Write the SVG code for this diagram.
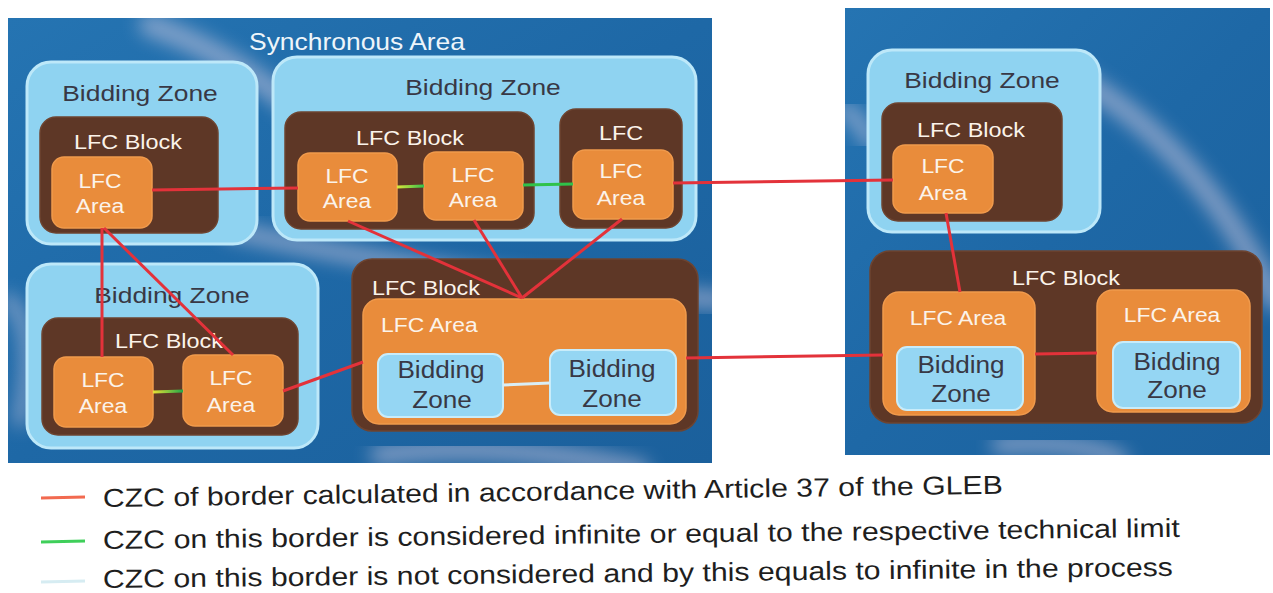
<svg xmlns="http://www.w3.org/2000/svg" width="1273" height="593" viewBox="0 0 1273 593">
<defs>
<style>
.panel{fill:url(#sky)}
.bz{fill:#8fd3f1;stroke:#bde8f9;stroke-width:3}
.blk{fill:#5e3726;stroke:#6e4430;stroke-width:1.5}
.area{fill:#e98c3b;stroke:#f09a4c;stroke-width:1.5}
.bzi{fill:#95d6f3;stroke:#c8ecfa;stroke-width:2}
text{font-family:"Liberation Sans",Arial,sans-serif}
.dk{fill:#383845}
.wt{fill:#fbf3ea}
.sync{fill:#eef5fa;font-size:23px}
.zl{font-size:22px}
.bl{font-size:20px}
.al{font-size:21px}
.zi{font-size:24px}
.leg{fill:#1e1e1e;font-size:26px}
.red{stroke:#e3323a;stroke-width:3;fill:none}
.grn{stroke:#2fc24a;stroke-width:3;fill:none}
.lt{stroke:#d9eef6;stroke-width:3;fill:none}
.streak{fill:none;stroke:#f3dcea;stroke-linecap:round;opacity:0.45;filter:url(#blur)}
</style>
<linearGradient id="sky" x1="0" y1="0" x2="1" y2="1">
<stop offset="0" stop-color="#2574b2"/>
<stop offset="0.5" stop-color="#1e68a6"/>
<stop offset="1" stop-color="#1b609c"/>
</linearGradient>
<linearGradient id="yg1" gradientUnits="userSpaceOnUse" x1="397" y1="0" x2="424" y2="0">
<stop offset="0" stop-color="#dbe63a"/>
<stop offset="1" stop-color="#34c04a"/>
</linearGradient>
<linearGradient id="yg2" gradientUnits="userSpaceOnUse" x1="153" y1="0" x2="183" y2="0">
<stop offset="0" stop-color="#e8e034"/>
<stop offset="1" stop-color="#22a848"/>
</linearGradient>
<filter id="blur" x="-20%" y="-20%" width="140%" height="140%"><feGaussianBlur stdDeviation="9"/></filter>
<clipPath id="clipL"><rect x="8" y="18" width="704" height="445"/></clipPath>
<clipPath id="clipR"><rect x="845" y="8" width="425" height="447"/></clipPath>
</defs>
<rect width="1273" height="593" fill="#ffffff"/>

<g id="panel-left">
<rect class="panel" x="8" y="18" width="704" height="445"/>
<g clip-path="url(#clipL)">
<path class="streak" stroke-width="22" d="M150 25 Q 250 60 330 140"/>
<path class="streak" stroke-width="18" d="M230 230 Q 450 280 720 300"/>
<path class="streak" stroke-width="20" d="M380 455 Q 500 440 640 470"/>
<path class="streak" stroke-width="14" d="M8 300 Q 40 330 20 420"/>
</g>
<text class="sync" transform="translate(357 50) scale(1.15 1)" text-anchor="middle">Synchronous Area</text>
</g>

<g id="panel-right">
<rect class="panel" x="845" y="8" width="425" height="447"/>
<g clip-path="url(#clipR)">
<path class="streak" stroke-width="22" d="M1080 80 Q 1200 150 1275 300"/>
<path class="streak" stroke-width="16" d="M845 110 Q 860 120 870 140"/>
<path class="streak" stroke-width="18" d="M1000 445 Q 1080 440 1120 460"/>
</g>
</g>

<g id="bz1">
<rect class="bz" x="27" y="62" width="230" height="182" rx="24"/>
<text class="zl dk" transform="translate(140 101) scale(1.2 1)" text-anchor="middle">Bidding Zone</text>
</g>
<g id="bz2">
<rect class="bz" x="273" y="57" width="423" height="183" rx="24"/>
<text class="zl dk" transform="translate(483 95) scale(1.2 1)" text-anchor="middle">Bidding Zone</text>
</g>
<g id="bz3">
<rect class="bz" x="27" y="264" width="291" height="184" rx="24"/>
<text class="zl dk" transform="translate(172 303) scale(1.2 1)" text-anchor="middle">Bidding Zone</text>
</g>
<g id="bz6">
<rect class="bz" x="868" y="50" width="232" height="182" rx="24"/>
<text class="zl dk" transform="translate(982 88) scale(1.2 1)" text-anchor="middle">Bidding Zone</text>
</g>

<g id="block1">
<rect class="blk" x="40" y="117" width="178" height="116" rx="16"/>
<text class="bl wt" transform="translate(128 149) scale(1.17 1)" text-anchor="middle">LFC Block</text>
</g>
<g id="block2">
<rect class="blk" x="285" y="112" width="249" height="117" rx="16"/>
<text class="bl wt" transform="translate(410 145) scale(1.17 1)" text-anchor="middle">LFC Block</text>
</g>
<g id="block3">
<rect class="blk" x="560" y="109" width="122" height="119" rx="16"/>
<text class="bl wt" transform="translate(621 140) scale(1.17 1)" text-anchor="middle">LFC</text>
</g>
<g id="block4">
<rect class="blk" x="42" y="318" width="256" height="117" rx="16"/>
<text class="bl wt" transform="translate(169 348) scale(1.17 1)" text-anchor="middle">LFC Block</text>
</g>
<g id="block5">
<rect class="blk" x="352" y="259" width="346" height="172" rx="20"/>
<text class="bl wt" transform="translate(372 295) scale(1.17 1)">LFC Block</text>
</g>
<g id="block6">
<rect class="blk" x="882" y="103" width="180" height="118" rx="16"/>
<text class="bl wt" transform="translate(971 137) scale(1.17 1)" text-anchor="middle">LFC Block</text>
</g>
<g id="block7">
<rect class="blk" x="870" y="251" width="392" height="172" rx="20"/>
<text class="bl wt" transform="translate(1066 285) scale(1.17 1)" text-anchor="middle">LFC Block</text>
</g>

<g id="area1">
<rect class="area" x="52" y="157" width="100" height="71" rx="12"/>
<text class="al wt" transform="translate(100 188) scale(1.09 1)" text-anchor="middle">LFC</text>
<text class="al wt" transform="translate(100 213) scale(1.09 1)" text-anchor="middle">Area</text>
</g>
<g id="area2a">
<rect class="area" x="298" y="153" width="99" height="68" rx="12"/>
<text class="al wt" transform="translate(347 183) scale(1.09 1)" text-anchor="middle">LFC</text>
<text class="al wt" transform="translate(347 208) scale(1.09 1)" text-anchor="middle">Area</text>
</g>
<g id="area2b">
<rect class="area" x="424" y="152" width="99" height="68" rx="12"/>
<text class="al wt" transform="translate(473 182) scale(1.09 1)" text-anchor="middle">LFC</text>
<text class="al wt" transform="translate(473 207) scale(1.09 1)" text-anchor="middle">Area</text>
</g>
<g id="area3">
<rect class="area" x="573" y="150" width="100" height="69" rx="12"/>
<text class="al wt" transform="translate(621 178) scale(1.09 1)" text-anchor="middle">LFC</text>
<text class="al wt" transform="translate(621 205) scale(1.09 1)" text-anchor="middle">Area</text>
</g>
<g id="area4a">
<rect class="area" x="54" y="357" width="99" height="70" rx="12"/>
<text class="al wt" transform="translate(103 387) scale(1.09 1)" text-anchor="middle">LFC</text>
<text class="al wt" transform="translate(103 413) scale(1.09 1)" text-anchor="middle">Area</text>
</g>
<g id="area4b">
<rect class="area" x="183" y="355" width="100" height="71" rx="12"/>
<text class="al wt" transform="translate(231 385) scale(1.09 1)" text-anchor="middle">LFC</text>
<text class="al wt" transform="translate(231 412) scale(1.09 1)" text-anchor="middle">Area</text>
</g>
<g id="area5">
<rect class="area" x="363" y="299" width="323" height="125" rx="16"/>
<text class="al wt" transform="translate(381 332) scale(1.09 1)">LFC Area</text>
</g>
<g id="area6">
<rect class="area" x="893" y="145" width="100" height="68" rx="12"/>
<text class="al wt" transform="translate(943 173) scale(1.09 1)" text-anchor="middle">LFC</text>
<text class="al wt" transform="translate(943 200) scale(1.09 1)" text-anchor="middle">Area</text>
</g>
<g id="area7a">
<rect class="area" x="883" y="292" width="152" height="123" rx="16"/>
<text class="al wt" transform="translate(958 325) scale(1.09 1)" text-anchor="middle">LFC Area</text>
</g>
<g id="area7b">
<rect class="area" x="1097" y="290" width="153" height="122" rx="16"/>
<text class="al wt" transform="translate(1172 322) scale(1.09 1)" text-anchor="middle">LFC Area</text>
</g>

<g id="zone5a">
<rect class="bzi" x="378" y="354" width="125" height="63" rx="10"/>
<text class="zi dk" transform="translate(441 378) scale(1.09 1)" text-anchor="middle">Bidding</text>
<text class="zi dk" transform="translate(442 408) scale(1.09 1)" text-anchor="middle">Zone</text>
</g>
<g id="zone5b">
<rect class="bzi" x="550" y="350" width="126" height="65" rx="10"/>
<text class="zi dk" transform="translate(612 377) scale(1.09 1)" text-anchor="middle">Bidding</text>
<text class="zi dk" transform="translate(612 407) scale(1.09 1)" text-anchor="middle">Zone</text>
</g>
<g id="zone7a">
<rect class="bzi" x="897" y="347" width="126" height="63" rx="10"/>
<text class="zi dk" transform="translate(961 373) scale(1.09 1)" text-anchor="middle">Bidding</text>
<text class="zi dk" transform="translate(961 402) scale(1.09 1)" text-anchor="middle">Zone</text>
</g>
<g id="zone7b">
<rect class="bzi" x="1113" y="342" width="127" height="66" rx="10"/>
<text class="zi dk" transform="translate(1177 370) scale(1.09 1)" text-anchor="middle">Bidding</text>
<text class="zi dk" transform="translate(1177 398) scale(1.09 1)" text-anchor="middle">Zone</text>
</g>

<g id="connectors">
<line class="red" x1="152" y1="190" x2="298" y2="188"/>
<line stroke="url(#yg1)" stroke-width="3" x1="397" y1="187" x2="424" y2="186"/>
<line class="grn" x1="523" y1="185" x2="573" y2="184"/>
<line class="red" x1="673" y1="183" x2="893" y2="180"/>
<line class="red" x1="102" y1="228" x2="102" y2="357"/>
<line class="red" x1="104" y1="228" x2="233" y2="355"/>
<line stroke="url(#yg2)" stroke-width="3" x1="153" y1="392" x2="183" y2="391"/>
<line class="red" x1="283" y1="391" x2="363" y2="362"/>
<line class="red" x1="348" y1="221" x2="522" y2="298"/>
<line class="red" x1="474" y1="220" x2="522" y2="298"/>
<line class="red" x1="622" y1="219" x2="522" y2="298"/>
<line class="lt" x1="503" y1="385" x2="550" y2="383"/>
<line class="red" x1="686" y1="358" x2="883" y2="355"/>
<line class="red" x1="946" y1="213" x2="960" y2="292"/>
<line class="red" x1="1035" y1="354" x2="1097" y2="353"/>
</g>

<g id="legend">
<line x1="41" y1="498" x2="85" y2="497" stroke="#f26a50" stroke-width="3"/>
<line x1="41" y1="542" x2="85" y2="541" stroke="#3fcf5a" stroke-width="3"/>
<line x1="41" y1="582" x2="85" y2="581" stroke="#d6ecf2" stroke-width="3"/>
<text class="leg" transform="translate(103 507) rotate(-0.85)" textLength="900" lengthAdjust="spacingAndGlyphs">CZC of border calculated in accordance with Article 37 of the GLEB</text>
<text class="leg" transform="translate(103 549) rotate(-0.65)" textLength="1077" lengthAdjust="spacingAndGlyphs">CZC on this border is considered infinite or equal to the respective technical limit</text>
<text class="leg" transform="translate(103 588) rotate(-0.65)" textLength="1070" lengthAdjust="spacingAndGlyphs">CZC on this border is not considered and by this equals to infinite in the process</text>
</g>
</svg>
